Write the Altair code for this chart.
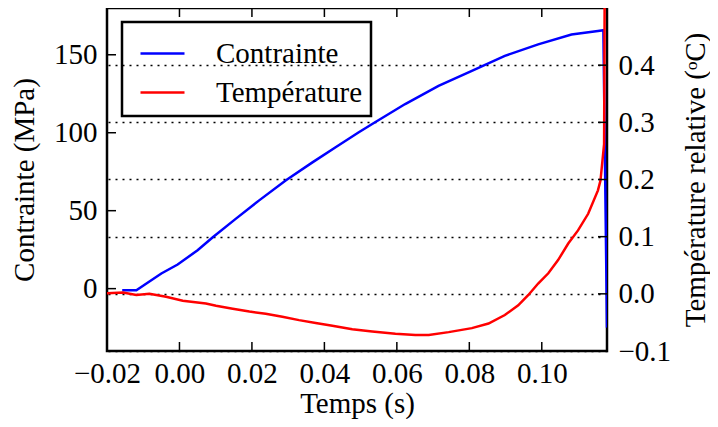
import altair as alt
import pandas as pd

# ---- data ----
time_c = [-0.0158, -0.0119, -0.0050, -0.0005, 0.0050, 0.0092, 0.0156, 0.0220,
          0.0293, 0.0367, 0.0431, 0.0495, 0.0532, 0.0623, 0.0715, 0.0807,
          0.0898, 0.0990, 0.1082, 0.1155, 0.1170, 0.1180]
contrainte = [-1.0, -1.0, 9.7, 15.5, 24.6, 33.0, 44.9, 56.6,
              69.4, 81.0, 90.7, 100.3, 105.6, 118.4, 130.0, 139.7,
              149.3, 156.7, 163.0, 165.3, 165.8, -25.0]

time_t = [-0.0202, -0.0156, -0.0119, -0.0083, -0.0037, 0.0009, 0.0073, 0.0101,
          0.0147, 0.0193, 0.0238, 0.0284, 0.0330, 0.0376, 0.0422, 0.0477,
          0.0532, 0.0596, 0.0651, 0.0688, 0.0743, 0.0807, 0.0853, 0.0898,
          0.0935, 0.0963, 0.0990, 0.1018, 0.1045, 0.1073, 0.1100, 0.1128,
          0.1155, 0.1162, 0.1172, 0.1174]
temperature = [0.001, 0.0025, -0.002, 0.0, -0.005, -0.012, -0.017, -0.021,
               -0.026, -0.031, -0.035, -0.040, -0.046, -0.051, -0.056, -0.062,
               -0.066, -0.070, -0.072, -0.072, -0.067, -0.060, -0.052, -0.037,
               -0.020, -0.002, 0.018, 0.036, 0.059, 0.088, 0.111, 0.140,
               0.181, 0.198, 0.262, 0.600]

x_ticks = [-0.02, 0.00, 0.02, 0.04, 0.06, 0.08, 0.10]
left_ticks = [0, 50, 100, 150]
right_ticks = [-0.1, 0.0, 0.1, 0.2, 0.3, 0.4]
series = ["Contrainte", "Température"]
colors = ["#0000ff", "#ff0000"]

# ---- layout ----
W, H = 500, 343
FONT = "Liberation Serif"
FS = 29
TICK = 9

df_c = pd.DataFrame({"t": time_c, "v": contrainte, "s": series[0]})
df_t = pd.DataFrame({"t": time_t, "v": temperature, "s": series[1]})
df_xt = pd.DataFrame({"t": x_ticks})
df_lt = pd.DataFrame({"v": left_ticks})
df_rt = pd.DataFrame({"v": right_ticks})

xs = alt.Scale(domain=[-0.02, 0.118], nice=False, zero=False)
ls = alt.Scale(domain=[-40, 180], nice=False, zero=False)
rs = alt.Scale(domain=[-0.1, 0.5], nice=False, zero=False)

# the same x axis definition on every layer that has an x field, so they merge
x_axis = alt.Axis(orient="bottom", values=x_ticks, format=".2f", title="Temps (s)",
                  labelFlush=False, labelPadding=8, titlePadding=1, grid=False)

color = alt.Color(
    "s:N",
    scale=alt.Scale(domain=series, range=colors),
    legend=alt.Legend(
        title=None, orient="none", legendX=15, legendY=14, direction="vertical",
        symbolType="stroke", symbolSize=1936, symbolStrokeWidth=2.5, symbolOffset=9,
        labelFont=FONT, labelFontSize=29, labelColor="black", labelOffset=30,
        labelLimit=0, strokeColor="black", padding=8,
        rowPadding=0, cornerRadius=0,
    ),
)

blue = alt.Chart(df_c).mark_line(strokeWidth=2.5, clip=True).encode(
    x=alt.X("t:Q", scale=xs, axis=x_axis),
    y=alt.Y("v:Q", scale=ls, axis=alt.Axis(orient="left", values=left_ticks, format="d",
                                           title="Contrainte (MPa)", labelPadding=10,
                                           titlePadding=14, grid=False)),
    color=color,
)

red = alt.Chart(df_t).mark_line(strokeWidth=2.5, clip=True).encode(
    x=alt.X("t:Q", scale=xs, axis=x_axis),
    y=alt.Y("v:Q", scale=rs, axis=alt.Axis(orient="right", values=right_ticks, format=".1f",
                                           title="Température relative (ᵒC)", labelPadding=11,
                                           titleAngle=270, titleBaseline="top",
                                           titlePadding=11, grid=True, gridColor="black",
                                           gridDash=[2, 5], gridWidth=1.3, gridOpacity=1)),
    color=color,
)

rule_style = dict(color="black", strokeWidth=1.5)
xt_bottom = alt.Chart(df_xt).mark_rule(**rule_style).encode(
    x=alt.X("t:Q", scale=xs, axis=x_axis), y=alt.value(H), y2=alt.value(H - TICK))
xt_top = alt.Chart(df_xt).mark_rule(**rule_style).encode(
    x=alt.X("t:Q", scale=xs, axis=x_axis), y=alt.value(0), y2=alt.value(TICK))
lt = alt.Chart(df_lt).mark_rule(**rule_style).encode(
    y=alt.Y("v:Q", scale=ls, axis=None), x=alt.value(0), x2=alt.value(TICK))
rt = alt.Chart(df_rt).mark_rule(**rule_style).encode(
    y=alt.Y("v:Q", scale=rs, axis=None), x=alt.value(W), x2=alt.value(W - TICK))

chart = (
    alt.layer(blue, red, xt_bottom, xt_top, lt, rt)
    .resolve_scale(y="independent")
    .properties(width=W, height=H, autosize=alt.AutoSizeParams(type="none"),
                padding={"left": 99, "top": 0, "right": 103, "bottom": 68})
    .configure_axis(labelFont=FONT, labelFontSize=FS, labelColor="black",
                    titleFont=FONT, titleFontSize=FS, titleFontWeight="normal",
                    titleColor="black", domain=False, ticks=False,
                    labelOverlap=False)
    .configure_legend(strokeWidth=2.5)
    .configure_view(stroke="black", strokeWidth=2.5)
)

chart.save("out.html", embed_options={"renderer": "svg", "actions": False})
